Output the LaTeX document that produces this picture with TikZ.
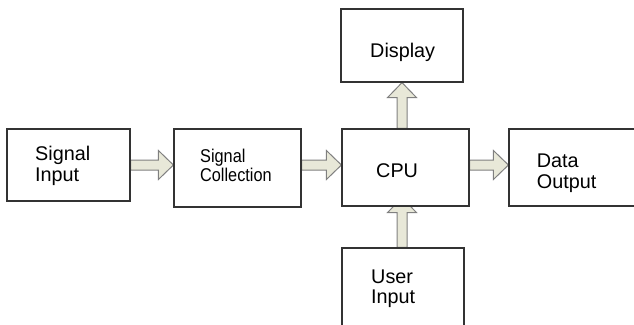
\documentclass[tikz,border=0pt]{standalone}
\usepackage{fontspec}
\setmainfont{Liberation Sans}
\usetikzlibrary{calc,backgrounds}

\definecolor{arrowfill}{RGB}{232,232,216}
\definecolor{arrowline}{RGB}{128,128,128}

\tikzset{
  box/.style={draw=black!80, line width=1.2pt, fill=white, inner sep=0pt},
  bigarrow/.style={draw=arrowline, line width=1pt, fill=arrowfill, line join=miter},
  lbl/.style={anchor=base west, inner sep=0pt, align=left,
    font=\fontsize{19.8}{21.5}\selectfont}
}

% fat block arrow from #1 to #2 (tip at #2)
\newcommand\fatarrow[2]{%
  \draw[bigarrow] let \p1=(#1), \p2=(#2), \p3=($(#2)-(#1)$),
      \n1={veclen(\x3,\y3)}, \n2={\x3/\n1}, \n3={\y3/\n1} in
    (\x1-\n3*5,\y1+\n2*5)
    -- (\x2-\n2*15-\n3*5,\y2-\n3*15+\n2*5)
    -- (\x2-\n2*15-\n3*14.5,\y2-\n3*15+\n2*14.5)
    -- (\x2,\y2)
    -- (\x2-\n2*15+\n3*14.5,\y2-\n3*15-\n2*14.5)
    -- (\x2-\n2*15+\n3*5,\y2-\n3*15-\n2*5)
    -- (\x1+\n3*5,\y1-\n2*5) -- cycle;}

\begin{document}
\begin{tikzpicture}[x=1pt, y=-1pt]
	\useasboundingbox (0,0) rectangle (634,324);
	\clip (0,0) rectangle (634,324);
	
	% boxes
	\node[box, minimum width=123pt, minimum height=72pt] (sin) at (68.5,165) {};
	\node[box, minimum width=127pt, minimum height=78pt] (col) at (237.5,168) {};
	\node[box, minimum width=127pt, minimum height=77pt] (cpu) at (405.5,167.5) {};
	\node[box, minimum width=122pt, minimum height=73pt] (dsp) at (402,45.5) {};
	\node[box, minimum width=140pt, minimum height=77pt] (dat) at (579,167.5) {};
	\node[box, minimum width=122pt, minimum height=90pt] (usr) at (403,293) {};
	
	% labels (base = baseline of the last line)
	\node[lbl] (t-sin) at (35,181.7) {Signal\\Input};
	\node[lbl, font=\fontsize{18.5}{18.7}\selectfont, xscale=0.88] (t-col) at (200,181) {Signal\\Collection};
	\node[lbl] (t-cpu) at (376,177.6) {CPU};
	\node[lbl] (t-dsp) at (370,57.7) {Display};
	\node[lbl, font=\fontsize{19.8}{20.5}\selectfont] (t-dat) at (536.7,188) {Data\\Output};
	\node[lbl, font=\fontsize{19.8}{20.3}\selectfont] (t-usr) at (371,303.8) {User\\Input};
	
	% arrows
	\begin{scope}[on background layer]
		\fatarrow{sin.east}{col.west |- sin.east}
		\fatarrow{col.east |- sin.east}{cpu.west |- sin.east}
		\fatarrow{cpu.east |- sin.east}{dat.west |- sin.east}
		\fatarrow{cpu.north -| dsp.south}{dsp.south}
		\fatarrow{usr.north -| dsp.south}{$(dsp.south |- cpu.south)+(0,-9)$}
	\end{scope}
\end{tikzpicture}
\end{document}
